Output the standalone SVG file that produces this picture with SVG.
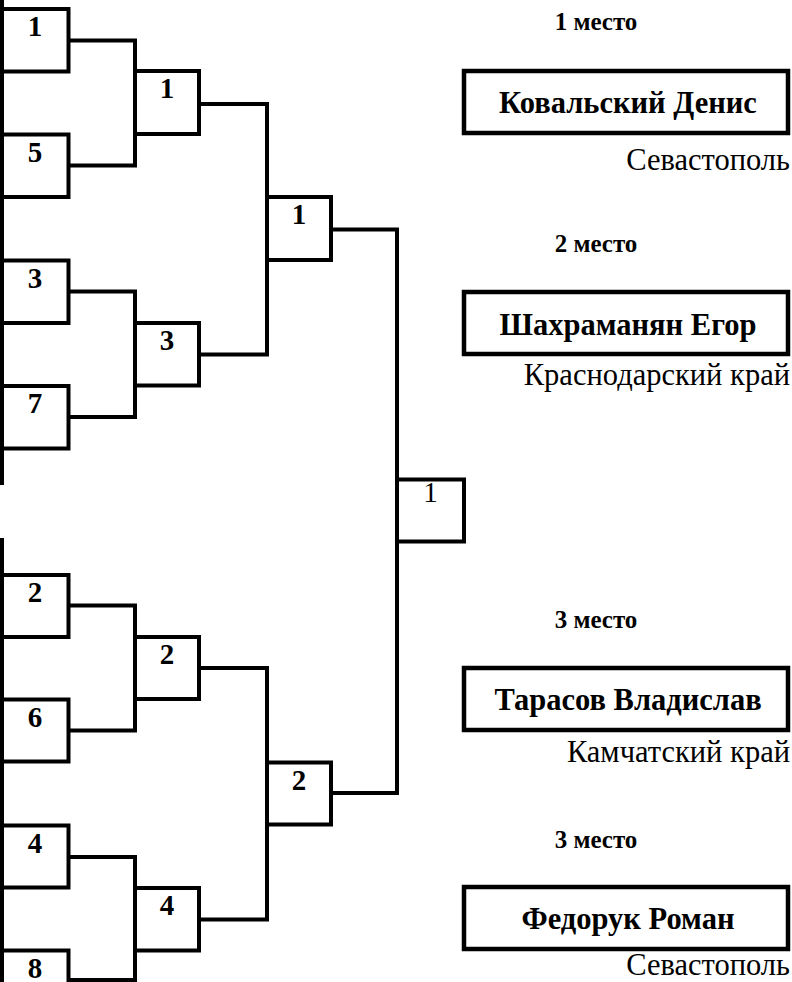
<svg xmlns="http://www.w3.org/2000/svg" width="792" height="982" viewBox="0 0 792 982">
<style>
.ln{fill:none;stroke:#000;stroke-width:4;stroke-linecap:square;stroke-linejoin:miter}
.bx{fill:#fff;stroke:#000;stroke-width:4}
.nb{fill:#fff;stroke:#000;stroke-width:4.5}
.num{font-family:"Liberation Serif","Times New Roman",serif;font-weight:bold;font-size:29px;text-anchor:middle;fill:#000}
.numr{font-family:"Liberation Serif","Times New Roman",serif;font-size:29px;text-anchor:middle;fill:#000}
.place{font-family:"Liberation Serif","Times New Roman",serif;font-weight:bold;font-size:25px;text-anchor:middle;fill:#000}
.name{font-family:"Liberation Serif","Times New Roman",serif;font-weight:bold;font-size:30.5px;text-anchor:middle;fill:#000}
.city{font-family:"Liberation Serif","Times New Roman",serif;font-size:30.5px;text-anchor:end;fill:#000}
</style>
<g id="connectors">
<line class="ln" x1="2" y1="0" x2="2" y2="483"/>
<line class="ln" x1="2" y1="540" x2="2" y2="982"/>
<polyline class="ln" points="68.5,40.5 135,40.5 135,165.5 68.5,165.5"/>
<polyline class="ln" points="68.5,291.5 135,291.5 135,417 68.5,417"/>
<polyline class="ln" points="199,104 267,104 267,354.5 199,354.5"/>
<polyline class="ln" points="331,229.5 397,229.5 397,793 331,793"/>
<polyline class="ln" points="68.5,605.5 135,605.5 135,730.5 68.5,730.5"/>
<polyline class="ln" points="68.5,857 135,857 135,980 68.5,980"/>
<polyline class="ln" points="199,668 267,668 267,919.5 199,919.5"/>
</g>
<g id="r1-1"><rect class="bx" x="2" y="9" width="66.5" height="62.5"/><text class="num" x="35" y="36">1</text></g>
<g id="r1-5"><rect class="bx" x="2" y="134.5" width="66.5" height="62.5"/><text class="num" x="35" y="161.5">5</text></g>
<g id="r1-3"><rect class="bx" x="2" y="260.5" width="66.5" height="62.5"/><text class="num" x="35" y="287.5">3</text></g>
<g id="r1-7"><rect class="bx" x="2" y="386" width="66.5" height="62.5"/><text class="num" x="35" y="413">7</text></g>
<g id="r1-2"><rect class="bx" x="2" y="575" width="66.5" height="62"/><text class="num" x="35" y="602">2</text></g>
<g id="r1-6"><rect class="bx" x="2" y="699.5" width="66.5" height="62"/><text class="num" x="35" y="726.5">6</text></g>
<g id="r1-4"><rect class="bx" x="2" y="825.5" width="66.5" height="62"/><text class="num" x="35" y="852.5">4</text></g>
<g id="r1-8"><rect class="bx" x="2" y="950.5" width="66.5" height="62"/><text class="num" x="35" y="977.5">8</text></g>
<g id="r2-1"><rect class="bx" x="135" y="71" width="64" height="63"/><text class="num" x="167" y="98">1</text></g>
<g id="r2-3"><rect class="bx" x="135" y="323" width="64" height="62.5"/><text class="num" x="167" y="350">3</text></g>
<g id="r2-2"><rect class="bx" x="135" y="637" width="64" height="62"/><text class="num" x="167" y="664">2</text></g>
<g id="r2-4"><rect class="bx" x="135" y="888" width="64" height="62.5"/><text class="num" x="167" y="915">4</text></g>
<g id="r3-1"><rect class="bx" x="267" y="197" width="64" height="63"/><text class="num" x="299" y="224">1</text></g>
<g id="r3-2"><rect class="bx" x="267" y="762.5" width="64" height="62"/><text class="num" x="299" y="789.5">2</text></g>
<g id="final"><rect class="bx" x="397" y="479.5" width="67" height="62"/><text class="numr" x="430.5" y="502">1</text></g>
<g id="p1">
<text class="place" x="596" y="30">1 место</text>
<rect class="nb" x="464" y="71" width="324" height="62"/>
<text class="name" x="628" y="113">Ковальский Денис</text>
<text class="city" x="790" y="170">Севастополь</text>
</g>
<g id="p2">
<text class="place" x="596" y="252">2 место</text>
<rect class="nb" x="464" y="292" width="324" height="62"/>
<text class="name" x="628" y="335">Шахраманян Егор</text>
<text class="city" x="790" y="385">Краснодарский край</text>
</g>
<g id="p3">
<text class="place" x="596" y="628">3 место</text>
<rect class="nb" x="464" y="668" width="324" height="62"/>
<text class="name" x="628" y="710">Тарасов Владислав</text>
<text class="city" x="790" y="762">Камчатский край</text>
</g>
<g id="p4">
<text class="place" x="596" y="848">3 место</text>
<rect class="nb" x="464" y="887" width="324" height="62"/>
<text class="name" x="628" y="929">Федорук Роман</text>
<text class="city" x="790" y="975">Севастополь</text>
</g>
</svg>
